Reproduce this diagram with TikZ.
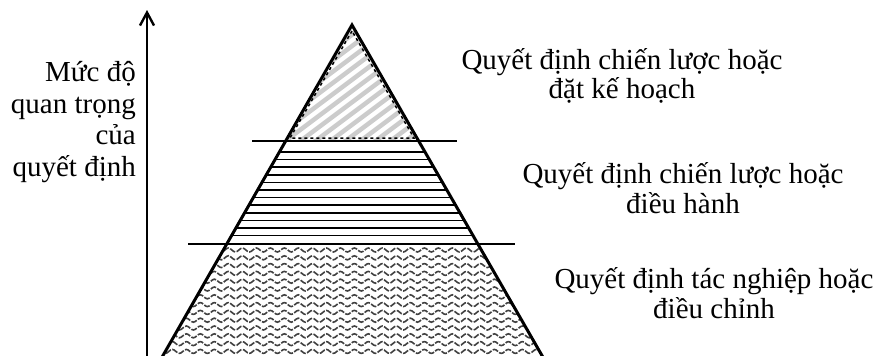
\documentclass[tikz,border=0pt]{standalone}
\usepackage{fontspec}
\setmainfont{Liberation Serif}
\usetikzlibrary{arrows.meta, calc, decorations.pathmorphing}

\begin{document}
\begin{tikzpicture}[
    x=1pt, y=-1pt,
    lbl/.style={font=\fontsize{29}{29.5}\selectfont, align=center, inner sep=0pt},
    axislbl/.style={font=\fontsize{29}{31.5}\selectfont, align=right, inner sep=0pt, anchor=east},
    edge/.style={line width=3pt, line join=miter},
    divider/.style={line width=2.4pt},
    hatch/.style={line width=4.5pt, gray!40},
    band/.style={line width=1.7pt, black},
    wave/.style={line width=1.6pt, black!75, dash pattern=on 6pt off 1.5pt, decorate, decoration={snake, segment length=14pt, amplitude=2pt}},
    axis/.style={-{Straight Barb[length=13pt, width=14pt, line width=2.4pt]}, line width=2pt}
]
\clip (0,0) rectangle (879,356);

% pyramid corners
\coordinate (apex) at (352,25);
\coordinate (bl) at (157,366);
\coordinate (br) at (548,366);
\coordinate (l1) at ($(apex)!0.340!(bl)$);
\coordinate (r1) at ($(apex)!0.340!(br)$);
\coordinate (l2) at ($(apex)!0.642!(bl)$);
\coordinate (r2) at ($(apex)!0.642!(br)$);

% top: hatched triangle
\begin{scope}
  \clip (apex) -- (l1) -- (r1) -- cycle;
  \foreach \x in {130,145,...,430}
    \draw[hatch] (\x,145) -- ++(160,-120);
\end{scope}
\draw[dashed, line width=1.5pt] (352,31) -- (290,138) -- (414,138) -- cycle;

% middle: horizontal lines
\begin{scope}
  \clip (l1) -- (r1) -- (r2) -- (l2) -- cycle;
  \foreach \y in {152,159.6,...,242}
    \draw[band] (150,\y) -- (560,\y);
\end{scope}

% bottom: wavy lines
\begin{scope}
  \clip (l2) -- (r2) -- (br) -- (bl) -- cycle;
  \foreach \y in {250,257.8,...,362}
    \draw[wave] (140,\y) -- (570,\y);
\end{scope}

\draw[edge] (bl) -- (apex) -- (br);

\coordinate (d1a) at (252,141);
\coordinate (d1b) at (457,141);
\coordinate (d2a) at (188,244);
\coordinate (d2b) at (515,244);
\draw[divider] (d1a) -- (d1b);
\draw[divider] (d2a) -- (d2b);

% axis
\coordinate (ax0) at (147,360);
\coordinate (ax1) at (147,10);
\draw[axis] (ax0) -- (ax1);

\node[axislbl] (importance) at (136,122) {Mức độ\\quan trọng\\của\\quyết định};
\node[lbl] (strategic) at (622,76) {Quyết định chiến lược hoặc\\đặt kế hoạch};
\node[lbl] (tactical) at (683,188) {Quyết định chiến lược hoặc\\điều hành};
\node[lbl] (operational) at (714,293) {Quyết định tác nghiệp hoặc\\điều chỉnh};
\end{tikzpicture}
\end{document}
